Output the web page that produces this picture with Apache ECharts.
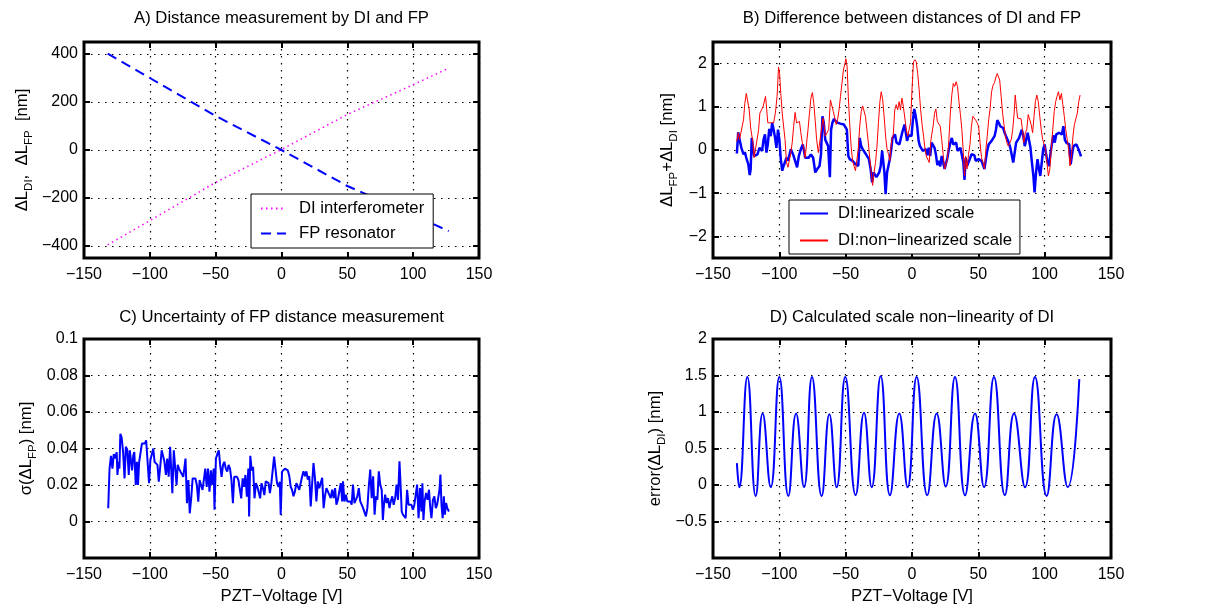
<!DOCTYPE html>
<html><head><meta charset="utf-8">
<script src="https://cdn.jsdelivr.net/npm/echarts@6/dist/echarts.min.js"></script>
<style>html,body{margin:0;padding:0;background:#fff}#c{width:1218px;height:612px}</style>
</head><body><div id="c"></div>
<script>
const FONT = "'Liberation Sans', Arial, Helvetica, sans-serif";

// ---------- tick labels ----------
const voltTicks = [-150, -100, -50, 0, 50, 100, 150];
const ticksA = [-400, -200, 0, 200, 400];
const ticksB = [-2, -1, 0, 1, 2];
const ticksC = [0, 0.02, 0.04, 0.06, 0.08, 0.1];
const ticksD = [-0.5, 0, 0.5, 1, 1.5, 2];

// ---------- texts ----------
const titles = [
  'A) Distance measurement by DI and FP',
  'B) Difference between distances of DI and FP',
  'C) Uncertainty of FP distance measurement',
  'D) Calculated scale non\u2212linearity of DI'
];
const xName = 'PZT\u2212Voltage [V]';
const legendA = ['DI interferometer', 'FP resonator'];
const legendB = ['DI:linearized scale', 'DI:non\u2212linearized scale'];

// ---------- A) [voltage, nm] ----------
const diInterferometer = [[-132, -395], [-100, -294], [-50, -135], [0, 2], [50, 148], [100, 272], [127, 341]];
const fpResonator = [[-132, 402], [-100, 300], [-50, 142], [0, 0], [50, -150], [100, -270], [127, -338]];

// ---------- B) [voltage, nm] ----------
const linearizedB = [[-132,-0.08],[-131,0.41],[-130,0.24],[-128.6,0.05],[-127,-0.1],[-126,-0.05],[-124.9,-0.18],[-123.4,-0.33],[-122.3,-0.58],[-121.6,-0.44],[-120.8,0.28],[-119,-0.14],[-116.5,-0.1],[-115,0.05],[-113,-0.02],[-111.9,0.24],[-110.8,0.36],[-109.7,-0.06],[-108.7,0.13],[-107.6,0.49],[-106.5,0.32],[-105.4,0.63],[-104.3,0.47],[-103.2,0.28],[-102.2,0.05],[-101,0.47],[-100,0.24],[-98.9,-0.21],[-97.8,-0.48],[-96.8,-0.37],[-94.6,-0.18],[-93.5,-0.25],[-91.3,0.02],[-89.2,-0.14],[-86.6,-0.4],[-85.3,-0.14],[-83.8,0.02],[-82.3,0.13],[-80.5,-0.18],[-77.9,-0.18],[-76.2,-0.1],[-74.5,-0.18],[-72.9,-0.52],[-71.4,-0.44],[-69.7,-0.37],[-68.6,-0.1],[-67.5,0.78],[-66.5,0.63],[-65.4,0.24],[-63.2,0.09],[-61.9,-0.63],[-61,0.47],[-60,0.63],[-58.9,0.72],[-57.8,0.69],[-56.7,0.64],[-54.1,0.61],[-51.3,0.59],[-49.1,0.47],[-48,-0.14],[-47,-0.21],[-44.8,-0.25],[-42.6,-0.33],[-40.5,-0.37],[-39.4,0.28],[-38.3,0.09],[-37.2,0.02],[-35.1,-0.08],[-32.5,-0.21],[-31.2,-0.44],[-30.1,-0.75],[-29,-0.52],[-26.8,-0.63],[-24.7,-0.52],[-23.6,-0.37],[-22.5,-0.02],[-21.6,-0.29],[-20.8,-0.52],[-19.9,-1.02],[-18.8,-0.52],[-16.7,-0.21],[-15.6,0.02],[-14.7,0.28],[-12.8,0.36],[-11.7,0.17],[-9.5,0.13],[-7.4,0.4],[-5.6,0.59],[-3.7,0.21],[-2.6,0.34],[-0.4,0.32],[0.6,0.66],[1.7,0.95],[2.8,0.78],[3.9,0.55],[5,0.21],[6,0.09],[8.2,-0.02],[10.4,0.02],[11.5,-0.12],[12.6,0.05],[13.7,-0.14],[14.8,0.17],[17,0.05],[18,-0.1],[19.1,-0.35],[20.2,-0.25],[21.3,-0.38],[22.4,-0.14],[24.6,-0.44],[25.7,-0.48],[26.7,-0.18],[27.8,0.02],[28.9,0.17],[30,0.28],[31.1,0.13],[33.3,0.17],[34.3,-0.02],[36.5,0.05],[38.7,-0.29],[39.6,-0.69],[40.4,-0.18],[41.5,-0.37],[43.7,-0.2],[44.8,-0.1],[47,-0.12],[48,-0.25],[50.2,-0.21],[52.4,-0.25],[54.6,-0.44],[55.7,-0.21],[56.7,-0.02],[57.8,0.13],[58.9,0.17],[60,0.21],[62.2,0.32],[63.3,0.47],[64.3,0.69],[65.4,0.63],[66.5,0.55],[68.7,0.51],[69.8,0.4],[70.9,0.32],[73,0.17],[74.1,0.05],[76.3,-0.29],[78.5,0.17],[80.7,0.28],[82.8,0.47],[83.9,0.32],[85,0.09],[87.2,0.4],[89.3,0.05],[90.4,-0.29],[91.5,-0.6],[92.4,-0.98],[93.5,-0.52],[94.6,-0.21],[95.7,-0.44],[96.7,-0.6],[97.8,-0.29],[98.9,0.02],[100,0.13],[101.1,-0.1],[102.2,-0.29],[103.3,-0.37],[104.3,-0.1],[105.4,0.13],[106.5,0.34],[107.6,0.17],[108.7,0.36],[110.9,0.4],[113,0.36],[114.1,0.55],[115.2,0.24],[116.3,0.17],[118.5,0.13],[119.6,-0.33],[120.7,-0.1],[121.7,0.09],[123.9,0.13],[126,-0.02],[127.4,-0.15]];
const nonLinearizedB = [[-132,0.2],[-131,0.4],[-130,0.24],[-127,0.7],[-126,1.08],[-124.9,1.31],[-123.8,1.27],[-122.7,0.93],[-121.6,0.51],[-119.9,0.17],[-119,-0.18],[-117.7,-0.2],[-115.6,0.47],[-114.7,0.85],[-113.4,0.93],[-112.3,1.0],[-110.4,1.24],[-109.5,0.93],[-108.7,0.63],[-106.5,0.63],[-104.3,0.63],[-103,0.85],[-101.7,1.24],[-100.6,1.92],[-99.8,1.77],[-98.9,1.31],[-97.8,0.85],[-96.8,0.55],[-95.7,0.24],[-94.6,-0.29],[-93.5,-0.4],[-91.3,-0.06],[-90.3,0.17],[-89.2,0.55],[-88.1,0.87],[-87,0.63],[-84.8,0.66],[-83.8,0.4],[-82.7,0.17],[-81.6,0.05],[-80.5,-0.18],[-79.4,0.17],[-78.4,0.47],[-77.3,0.85],[-76.2,1.2],[-75.1,1.33],[-74,1.08],[-72.9,0.66],[-71.9,0.24],[-70.6,-0.06],[-69.3,-0.1],[-67.1,0.74],[-66.2,0.55],[-65.4,0.32],[-62.8,0.47],[-61.5,1.16],[-60.4,1.18],[-59.3,0.89],[-58.2,0.74],[-57.1,0.59],[-56.1,0.7],[-55,0.93],[-53.9,1.24],[-52.8,1.54],[-51.7,1.85],[-50.6,2.0],[-49.8,2.11],[-48.9,1.92],[-48,1.24],[-47,0.63],[-45.9,0.09],[-44.8,-0.25],[-43.7,-0.37],[-42.6,-0.48],[-40.5,0.02],[-39.4,0.55],[-38.3,0.89],[-37.2,1.02],[-36.1,0.99],[-35.1,0.78],[-34,0.47],[-32.9,0.17],[-31.8,-0.21],[-30.7,-0.52],[-29.7,-0.82],[-28.6,-0.52],[-27.5,-0.29],[-26.4,0.09],[-25.3,0.63],[-24.2,1.12],[-23.2,1.35],[-22.1,1.16],[-21,0.78],[-19.9,0.32],[-18.8,0.02],[-17.7,-0.1],[-16.7,-0.25],[-16,0.02],[-15.2,0.24],[-14.1,0.36],[-13,0.93],[-11.9,1.05],[-10.8,0.93],[-9.7,1.12],[-8.7,0.93],[-7.6,1.2],[-6.5,1.0],[-5.4,0.74],[-4.3,0.47],[-3.2,0.32],[-2.2,0.47],[-1.1,0.63],[0,1.39],[1.1,2.04],[2.2,2.09],[3.2,2.04],[4.3,1.77],[5.4,1.39],[6.5,0.93],[7.6,0.59],[8.7,0.32],[9.7,0.05],[10.8,-0.14],[13,-0.29],[14.3,0.24],[15.9,0.55],[17,0.85],[18,0.95],[19.1,0.66],[20.2,0.69],[21.3,0.55],[22.4,0.24],[23.5,-0.1],[24.6,-0.44],[25.7,-0.48],[26.7,-0.21],[27.8,0.24],[28.9,0.85],[30,1.27],[31.1,1.54],[32.2,1.47],[33.3,1.58],[34.3,1.47],[35.4,1.12],[36.5,0.82],[37.6,0.47],[38.7,-0.06],[39.6,-0.6],[40.4,-0.14],[41.5,-0.44],[42.6,-0.1],[43.7,0.13],[44.8,0.55],[45.9,0.78],[47,0.76],[48,0.69],[49.1,0.63],[50.2,0.55],[51.3,0.17],[52.4,-0.18],[53.5,-0.29],[54.6,-0.44],[55.7,0.02],[56.7,0.32],[57.8,0.7],[58.9,0.97],[60,1.35],[61.1,1.5],[62.2,1.56],[63.3,1.69],[64.3,1.77],[65.2,1.69],[66.1,1.62],[67.2,1.24],[68.3,0.85],[69.3,0.59],[70.4,0.32],[71.5,0.17],[72.6,0.09],[73.7,0.13],[74.8,0.24],[75.9,0.47],[77,0.85],[77.8,1.27],[78.7,1.0],[79.6,0.74],[80.9,0.74],[82.2,0.72],[83.3,0.47],[84.3,0.17],[85.4,0.4],[86.5,0.47],[87.6,0.82],[88.7,0.82],[89.8,0.59],[90.9,0.4],[92,0.78],[93,1.12],[94.1,1.27],[95.2,1.12],[96.3,0.78],[97.4,0.47],[98.5,0.24],[99.6,0.13],[100.7,0.02],[101.7,-0.29],[102.8,-0.6],[103.9,-0.44],[105,0.02],[106.1,0.47],[107.2,0.89],[108.3,1.12],[109.3,1.24],[110.4,1.35],[111.5,1.16],[112.6,1.31],[113.7,1.05],[114.8,0.78],[115.9,0.47],[117,0.24],[118,0.02],[119.1,-0.37],[120.2,-0.14],[121.3,0.32],[122.4,0.59],[123.5,0.55],[124.6,0.85],[125.7,1.12],[126.7,1.27]];

// ---------- C) [voltage, nm] ----------
const sigmaFP = [[-131.6,0.0073],[-130.6,0.029],[-129.5,0.036],[-128.4,0.029],[-127.4,0.037],[-126.3,0.0345],[-125.2,0.038],[-124.6,0.0255],[-123.7,0.0327],[-123.1,0.029],[-122.4,0.048],[-121.4,0.046],[-120.3,0.038],[-119.2,0.0236],[-118.2,0.041],[-117.1,0.039],[-116,0.0255],[-115.2,0.039],[-114.3,0.038],[-113.5,0.028],[-112.6,0.036],[-111.8,0.038],[-110.7,0.02],[-109.8,0.0327],[-109,0.02],[-108.1,0.0327],[-107,0.0318],[-106,0.0427],[-104.9,0.0436],[-103.8,0.0427],[-102.8,0.0445],[-101.7,0.044],[-100.6,0.021],[-99.6,0.0336],[-98.5,0.0327],[-97.4,0.04],[-96.4,0.0327],[-95.3,0.0336],[-94.2,0.031],[-93.2,0.0218],[-92.1,0.03],[-91,0.039],[-90,0.038],[-88.9,0.0327],[-87.8,0.0255],[-86.8,0.0345],[-85.7,0.0245],[-84.6,0.041],[-83.5,0.04],[-82.9,0.0155],[-81.8,0.039],[-80.8,0.03],[-79.7,0.02],[-78.8,0.031],[-77.8,0.029],[-76.7,0.0273],[-75.6,0.0264],[-74.6,0.0245],[-73.5,0.0236],[-72.9,0.0345],[-71.8,0.01],[-70.7,0.0227],[-69.7,0.0045],[-68.6,0.0127],[-67.5,0.0236],[-66.4,0.0227],[-65.4,0.0236],[-64.3,0.02],[-63.2,0.0109],[-62.2,0.0227],[-61.1,0.02],[-60,0.0173],[-59,0.0227],[-57.9,0.029],[-56.8,0.019],[-55.8,0.029],[-54.7,0.0164],[-53.6,0.028],[-52.6,0.02],[-51.5,0.029],[-50.9,0.0064],[-49.8,0.0345],[-48.7,0.037],[-47.6,0.039],[-46.6,0.031],[-45.5,0.0245],[-44.4,0.031],[-43.4,0.0327],[-42.3,0.029],[-41.2,0.0273],[-40.2,0.031],[-39.1,0.029],[-38,0.0227],[-36.9,0.01],[-35.9,0.0245],[-34.8,0.0236],[-33.8,0.0245],[-32.7,0.0227],[-31.7,0.0218],[-30.6,0.0127],[-29.5,0.0236],[-28.4,0.019],[-27.4,0.0255],[-26.3,0.0136],[-25.2,0.029],[-24.6,0.0027],[-23.7,0.036],[-22.6,0.028],[-21.6,0.03],[-20.5,0.0127],[-19.4,0.021],[-18.3,0.019],[-17.3,0.018],[-16.2,0.0127],[-15.2,0.021],[-14.1,0.0182],[-13,0.0145],[-12,0.022],[-10.9,0.0227],[-9.8,0.021],[-8.8,0.0155],[-7.7,0.021],[-6.6,0.02],[-5.6,0.0355],[-4.5,0.036],[-3.4,0.021],[-2.3,0.019],[-1.3,0.0218],[-0.6,0.0036],[0.4,0.0273],[1.5,0.028],[2.6,0.029],[3.7,0.029],[4.8,0.028],[5.9,0.025],[7,0.019],[8,0.0174],[9.1,0.0138],[10.2,0.0165],[11.3,0.021],[12.4,0.022],[13.5,0.0174],[14.6,0.0183],[15.7,0.0248],[16.7,0.0275],[17.8,0.0248],[18.9,0.0275],[20,0.023],[21.1,0.0248],[22.2,0.0083],[23.3,0.021],[24.3,0.032],[25.4,0.0239],[26.5,0.011],[27.6,0.022],[28.7,0.0183],[29.8,0.0193],[30.9,0.0239],[32,0.0073],[33,0.0138],[34.1,0.0183],[35.2,0.0165],[36.3,0.0174],[37.4,0.0128],[38.5,0.0174],[39.6,0.0128],[40.7,0.0183],[41.7,0.0092],[42.8,0.0119],[43.9,0.011],[45,0.021],[46.1,0.011],[46.7,0.022],[47.8,0.011],[48.9,0.0147],[50,0.011],[51.1,0.0119],[52.2,0.011],[53.3,0.0092],[54.3,0.0202],[55.4,0.0101],[56.5,0.0092],[57.6,0.0138],[58.7,0.0183],[59.8,0.011],[60.9,0.0092],[62,0.0073],[63,0.0064],[64.1,0.0028],[65.2,0.0073],[66.3,0.0193],[67.4,0.0284],[68.5,0.0128],[69.6,0.0248],[70.7,0.0037],[71.7,0.0138],[72.8,0.0119],[73.9,0.0275],[75,0.0202],[76.1,0.0174],[77,0.0009],[77.8,0.0092],[78.7,0.0147],[79.8,0.0101],[80.9,0.0128],[82,0.0073],[83,0.011],[84.1,0.0138],[85.2,0.0092],[86.3,0.0128],[87.4,0.0202],[88.5,0.0119],[89.6,0.033],[90.4,0.021],[91.3,0.0055],[92.2,0.0037],[93.3,0.0046],[94.3,0.0018],[95.4,0.0174],[96.5,0.0092],[97.6,0.0083],[98.7,0.0092],[99.8,0.0064],[100.9,0.0092],[102,0.0101],[103,0.0202],[104.1,0.0018],[105.2,0.0183],[106.3,0.0055],[107,0.021],[107.8,0.0009],[108.7,0.011],[109.8,0.0156],[110.9,0.0119],[112,0.0174],[113,0.0073],[113.9,0.0018],[115,0.0119],[116.1,0.0138],[117.2,0.0073],[118.2,0.0092],[119.1,0.0083],[120,0.0174],[120.7,0.0257],[121.5,0.0092],[122.4,0.0018],[123.3,0.0138],[124.1,0.0037],[125,0.0101],[125.9,0.0073],[127.2,0.0055]];

// ---------- D) [voltage, nm] (turning points read off the curve) ----------
const errorDI = [[-132,0.3],[-130.2,-0.03],[-124.1,1.48],[-117.8,-0.15],[-112.6,0.98],[-106.5,-0.03],[-100,1.48],[-93.2,-0.15],[-87.4,0.98],[-81.4,-0.03],[-75.4,1.48],[-68.1,-0.15],[-62.3,0.97],[-56.8,-0.03],[-50.3,1.48],[-42.5,-0.14],[-36.2,0.99],[-30.4,-0.03],[-23.6,1.49],[-16.6,-0.14],[-9.6,0.98],[-3.3,-0.03],[3.5,1.48],[11.5,-0.14],[18.6,0.98],[25.4,-0.02],[32.4,1.48],[40,-0.14],[47.5,0.98],[54.3,-0.03],[61.8,1.48],[70,-0.14],[76.9,0.98],[85.2,-0.03],[92.7,1.48],[101.5,-0.15],[109,0.97],[117.4,-0.03],[126.1,1.45]];

// ---------- layout ----------
const grids = [
  {left: 84, top: 42, width: 395, height: 216},
  {left: 713, top: 42, width: 398, height: 216},
  {left: 84, top: 339, width: 395, height: 219},
  {left: 713, top: 339, width: 398, height: 219}
];
// y ranges; C and D use a tick step that divides their minimum
const yRange = [[-450, 450], [-2.5, 2.5], [-0.02, 0.1], [-1, 2]];
const yStep = [null, null, 0.02, 0.5];
const yTicks = [ticksA, ticksB, ticksC, ticksD];
const yNames = [
  '{m|\u0394L}{s|DI}{m|,  \u0394L}{s|FP}{m|  [nm]}',
  '{m|\u0394L}{s|FP}{m|+\u0394L}{s|DI}{m| [nm]}',
  '{m|\u03c3(\u0394L}{s|FP}{m|) [nm]}',
  '{m|error(\u0394L}{s|DI}{m|) [nm]}'
];
const yNameGap = [52, 36, 48, 48];

function fmt(v) {
  const s = String(+(+v).toFixed(6));
  return s.replace('-', '\u2212');
}
function onlyTicks(list) {
  return function (v) {
    for (const t of list) if (Math.abs(t - v) < 1e-9) return fmt(v);
    return '';
  };
}
const tickStyle = {show: true, inside: true, length: 6, lineStyle: {color: '#000', width: 2}};
const gridLine = {show: true, lineStyle: {color: '#000', width: 1.2, type: [1.5, 5.5]}};
const hiddenLine = {show: false, onZero: false};
const richName = {
  m: {fontSize: 16.7, fontFamily: FONT, color: '#000', lineHeight: 18, verticalAlign: 'top'},
  s: {fontSize: 11.5, fontFamily: FONT, color: '#000', lineHeight: 12, padding: [9, 0, 0, 0], verticalAlign: 'top'}
};

const xAxis = [], yAxis = [];
grids.forEach(function (g, i) {
  const bottom = {
    type: 'value', gridIndex: i, position: 'bottom', min: -150, max: 150, interval: 50,
    axisLine: hiddenLine, axisTick: tickStyle,
    axisLabel: {margin: 9, color: '#000', fontSize: 16, fontFamily: FONT, formatter: onlyTicks(voltTicks)},
    splitLine: gridLine
  };
  if (i >= 2) {
    bottom.name = xName; bottom.nameLocation = 'middle'; bottom.nameGap = 30;
    bottom.nameTextStyle = {fontSize: 16.7, fontFamily: FONT, color: '#000'};
  }
  xAxis.push(bottom);
  xAxis.push({
    type: 'value', gridIndex: i, position: 'top', min: -150, max: 150, interval: 50, z: 5,
    axisLine: hiddenLine, axisTick: tickStyle,
    axisLabel: {show: false}, splitLine: {show: false}
  });
  const r = yRange[i], tk = yTicks[i];
  const left = {
    type: 'value', gridIndex: i, position: 'left', min: r[0], max: r[1],
    axisLine: hiddenLine, axisTick: tickStyle,
    axisLabel: {margin: 6, color: '#000', fontSize: 16, fontFamily: FONT, formatter: onlyTicks(tk)},
    splitLine: gridLine,
    name: yNames[i], nameLocation: 'middle', nameRotate: 90, nameGap: yNameGap[i],
    nameTextStyle: {rich: richName}
  };
  const right = {
    type: 'value', gridIndex: i, position: 'right', min: r[0], max: r[1], z: 5,
    axisLine: hiddenLine, axisTick: tickStyle,
    axisLabel: {show: false}, splitLine: {show: false}
  };
  if (yStep[i]) { left.interval = yStep[i]; right.interval = yStep[i]; }
  else { left.splitNumber = 5; right.splitNumber = 5; }
  yAxis.push(left);
  yAxis.push(right);
});

const titleCenters = [[281.5, 10], [912, 10], [281.5, 309], [912, 309]];
const title = titles.map(function (t, i) {
  return {text: t, left: titleCenters[i][0], top: titleCenters[i][1], textAlign: 'center', padding: 0,
    textStyle: {fontSize: 16.7, fontWeight: 'normal', color: '#000', fontFamily: FONT}};
});

function line(name, data, ax, color, width, type) {
  return {type: 'line', name: name, data: data, xAxisIndex: ax * 2, yAxisIndex: ax * 2,
    symbol: 'none', showSymbol: false, animation: false, z: 3,
    lineStyle: {color: color, width: width, type: type || 'solid'}, itemStyle: {color: color}};
}
const series = [
  line(legendA[0], diInterferometer, 0, '#ff00ff', 1.5, [1.5, 3.5]),
  line(legendA[1], fpResonator, 0, '#0000ff', 2, [10, 6]),
  line(legendB[0], linearizedB, 1, '#0000ff', 2.5),
  line(legendB[1], nonLinearizedB, 1, '#ff0000', 1),
  line('sigma', sigmaFP, 2, '#0000ff', 2),
  Object.assign(line('error', errorDI, 3, '#0000ff', 2), {smooth: 0.5})
];

const legendText = {fontSize: 16.7, color: '#000', fontFamily: FONT};
const legend = [
  {data: legendA, left: 251, top: 194, orient: 'vertical', padding: [6, 9, 6, 9], itemWidth: 25, itemHeight: 14, itemGap: 8,
   borderColor: '#000', borderWidth: 1, backgroundColor: '#fff', borderRadius: 0, z: 10,
   textStyle: Object.assign({padding: [0, 0, 0, 8]}, legendText), itemStyle: {opacity: 0}, selectedMode: false},
  {data: legendB, left: 789, top: 200, orient: 'vertical', padding: [5, 8, 5, 10], itemWidth: 28, itemHeight: 14, itemGap: 10,
   borderColor: '#000', borderWidth: 1, backgroundColor: '#fff', borderRadius: 0, z: 10,
   textStyle: Object.assign({padding: [0, 0, 0, 5]}, legendText), itemStyle: {opacity: 0}, selectedMode: false}
];

const chart = echarts.init(document.getElementById('c'), null, {renderer: 'canvas'});
chart.setOption({
  backgroundColor: '#fff',
  animation: false,
  title: title,
  legend: legend,
  grid: grids.map(function (g) { return Object.assign({show: true, borderColor: '#000', borderWidth: 3, backgroundColor: 'transparent', containLabel: false}, g); }),
  xAxis: xAxis,
  yAxis: yAxis,
  series: series
});
</script>
</body></html>
